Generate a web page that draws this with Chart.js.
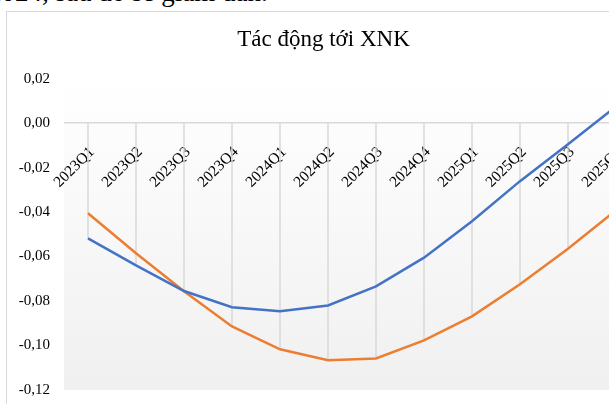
<!DOCTYPE html>
<html lang="vi">
<head>
<meta charset="utf-8">
<title>Tác động tới XNK</title>
<script src="https://cdn.jsdelivr.net/npm/chart.js@4/dist/chart.umd.min.js"></script>
<style>
  html, body { margin: 0; padding: 0; background: #fff; }
  body { width: 609px; height: 404px; overflow: hidden; position: relative; }
  .doc-line {
    position: absolute; left: -12px; top: -21px;
    font: 27px "Liberation Serif", "Times New Roman", serif;
    line-height: 27px; white-space: nowrap; color: #000;
  }
  .frame {
    position: absolute; left: 6px; top: 11px; width: 700px; height: 500px;
    border: 1px solid #d9d9d9; box-sizing: border-box;
  }
  .holder { position: absolute; left: 7px; top: 12px; width: 655px; height: 392px; }
</style>
</head>
<body>
<div class="doc-line">2024, sau đó sẽ giảm dần.</div>
<div class="frame"></div>
<div class="holder"><canvas id="chart"></canvas></div>
<script>
// Quarters on the category axis
const quarters = ['2023Q1', '2023Q2', '2023Q3', '2023Q4', '2024Q1', '2024Q2',
                  '2024Q3', '2024Q4', '2025Q1', '2025Q2', '2025Q3', '2025Q4'];
// Impact series
const seriesBlue   = [-0.0518, -0.0640, -0.0755, -0.0828, -0.0846, -0.0820,
                      -0.0734, -0.0605, -0.0441, -0.0261, -0.0095, 0.0075];
const seriesOrange = [-0.0405, -0.0585, -0.0756, -0.0914, -0.1017, -0.1066,
                      -0.1058, -0.0977, -0.0869, -0.0725, -0.0565, -0.0392];
// Value axis
const yMin = -0.12;
const yMax = 0.02;
const yStep = 0.02;

const serif = '"Liberation Serif", "Times New Roman", serif';

// Soft vertical gradient behind the plot area
const plotBackground = {
  id: 'plotBackground',
  beforeDraw(chart) {
    const { ctx, chartArea: a } = chart;
    const g = ctx.createLinearGradient(0, a.top, 0, a.bottom);
    g.addColorStop(0, '#ffffff');
    g.addColorStop(1, '#f0f0f0');
    ctx.save();
    ctx.fillStyle = g;
    ctx.fillRect(a.left, a.top, a.right - a.left, a.bottom - a.top);
    ctx.restore();
  }
};

// Drop lines from the zero axis down to the lower of the two series
const dropLines = {
  id: 'dropLines',
  beforeDatasetsDraw(chart) {
    const { ctx, scales: { x, y } } = chart;
    const y0 = y.getPixelForValue(0);
    ctx.save();
    ctx.strokeStyle = '#d9d9d9';
    ctx.lineWidth = 1.5;
    quarters.forEach((q, i) => {
      const low = Math.min(seriesBlue[i], seriesOrange[i], 0);
      const px = x.getPixelForValue(i);
      ctx.beginPath();
      ctx.moveTo(px, y0);
      ctx.lineTo(px, y.getPixelForValue(low));
      ctx.stroke();
    });
    ctx.restore();
  }
};

// Decimal comma labels, with a clean zero
const formatTick = (v) => {
  const n = Math.abs(v) < 1e-9 ? 0 : Number(v);
  return n.toFixed(2).replace('.', ',');
};

new Chart(document.getElementById('chart'), {
  type: 'line',
  data: {
    labels: quarters,
    datasets: [
      {
        label: 'Xuất khẩu',
        data: seriesBlue,
        borderColor: '#4472C4',
        borderWidth: 2.5,
        pointRadius: 0,
        tension: 0,
        fill: false
      },
      {
        label: 'Nhập khẩu',
        data: seriesOrange,
        borderColor: '#ED7D31',
        borderWidth: 2.5,
        pointRadius: 0,
        tension: 0,
        fill: false
      }
    ]
  },
  options: {
    responsive: true,
    maintainAspectRatio: false,
    animation: false,
    layout: { padding: { top: 0, right: 22, bottom: 14, left: 0 } },
    plugins: {
      legend: { display: false },
      tooltip: { enabled: false },
      title: {
        display: true,
        text: 'Tác động tới XNK',
        color: '#000',
        font: { family: serif, size: 23, weight: 'normal' },
        padding: { top: 14, bottom: 25 }
      }
    },
    scales: {
      x: {
        type: 'category',
        position: { y: 0 },
        offset: true,
        grid: { display: false, drawTicks: false },
        border: { display: false },
        ticks: {
          autoSkip: false,
          minRotation: 45,
          maxRotation: 45,
          padding: 20,
          labelOffset: 4,
          color: '#000',
          font: { family: serif, size: 15.5 }
        }
      },
      y: {
        min: yMin,
        max: yMax,
        afterFit(scale) {
          // fixed gutter for the value labels; plot edges follow the layout padding
          scale.width = 57;
          scale.paddingTop = 0;
          scale.paddingBottom = 0;
        },
        border: { display: false },
        grid: {
          drawTicks: false,
          lineWidth: 1.5,
          color: (c) => (Math.abs(c.tick.value) < 1e-9 ? '#d9d9d9' : 'rgba(0,0,0,0)')
        },
        ticks: {
          stepSize: yStep,
          padding: 14,
          color: '#000',
          font: { family: serif, size: 15 },
          callback: formatTick
        }
      }
    }
  },
  plugins: [plotBackground, dropLines]
});
</script>
</body>
</html>
